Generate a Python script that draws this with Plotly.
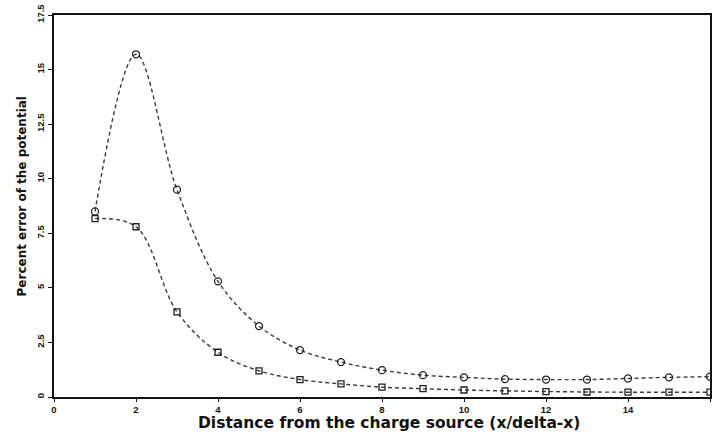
import plotly.graph_objects as go

x_vals = list(range(1, 17))
circle_err = [8.5, 15.7, 9.5, 5.3, 3.25, 2.15, 1.6, 1.23, 1.0, 0.9, 0.82, 0.8, 0.8, 0.85, 0.9, 0.93]
square_err = [8.17, 7.8, 3.9, 2.05, 1.2, 0.8, 0.6, 0.45, 0.38, 0.32, 0.28, 0.25, 0.23, 0.22, 0.22, 0.22]
x_ticks = [0, 2, 4, 6, 8, 10, 12, 14, 16]
y_ticks = [0, 2.5, 5, 7.5, 10, 12.5, 15, 17.5]
y_tick_text = ["0", "2.5", "5", "7.5", "10", "12.5", "15", "17.5"]

line_style = dict(color="#3a3a3a", width=1.4, dash="4px,3px", shape="spline", smoothing=1.0)

fig = go.Figure()
fig.add_trace(go.Scatter(
    x=x_vals, y=circle_err, mode="lines+markers", line=line_style,
    marker=dict(symbol="circle-open", size=7, color="#222222", line=dict(width=1.3)),
    showlegend=False))
fig.add_trace(go.Scatter(
    x=x_vals, y=square_err, mode="lines+markers", line=line_style,
    marker=dict(symbol="square-open", size=6, color="#222222", line=dict(width=1.3)),
    showlegend=False))

xtitle_font = dict(family="DejaVu Sans, Verdana, sans-serif", size=15.5, color="#111111")
ytitle_font = dict(family="DejaVu Sans, Verdana, sans-serif", size=12, color="#111111")
tick_font = dict(size=9.5, family="Liberation Sans, Arial", weight="bold", color="#111111")

fig.update_layout(
    width=714, height=433,
    margin=dict(l=54, r=2, t=15, b=36),
    paper_bgcolor="white", plot_bgcolor="white",
    font=dict(family="Liberation Sans, Arial, sans-serif", color="#111111"),
    xaxis=dict(
        range=[0, 16], tickvals=x_ticks, ticktext=[str(v) for v in x_ticks],
        showgrid=False, zeroline=False, showline=True, linecolor="#111111", linewidth=2,
        mirror=True, ticks="outside", ticklen=3, tickcolor="#111111",
        tickfont=tick_font,
    ),
    yaxis=dict(
        range=[0, 17.5], tickvals=y_ticks, ticktext=y_tick_text, tickangle=-90,
        showgrid=False, zeroline=False, showline=True, linecolor="#111111", linewidth=2,
        mirror=True, ticks="outside", ticklen=4, tickcolor="#111111",
        tickfont=tick_font,
    ),
    annotations=[
        dict(text="<b>Percent error of the potential</b>", textangle=-90,
             xref="paper", yref="paper", x=0, y=0.525, xshift=-32,
             xanchor="center", yanchor="middle", showarrow=False, font=ytitle_font),
        dict(text="<b>Distance from the charge source (x/delta-x)</b>",
             xref="paper", yref="paper", x=0.5, y=0, xshift=7, yshift=-26,
             xanchor="center", yanchor="middle", showarrow=False, font=xtitle_font),
    ],
)

fig.write_html("out.html")
